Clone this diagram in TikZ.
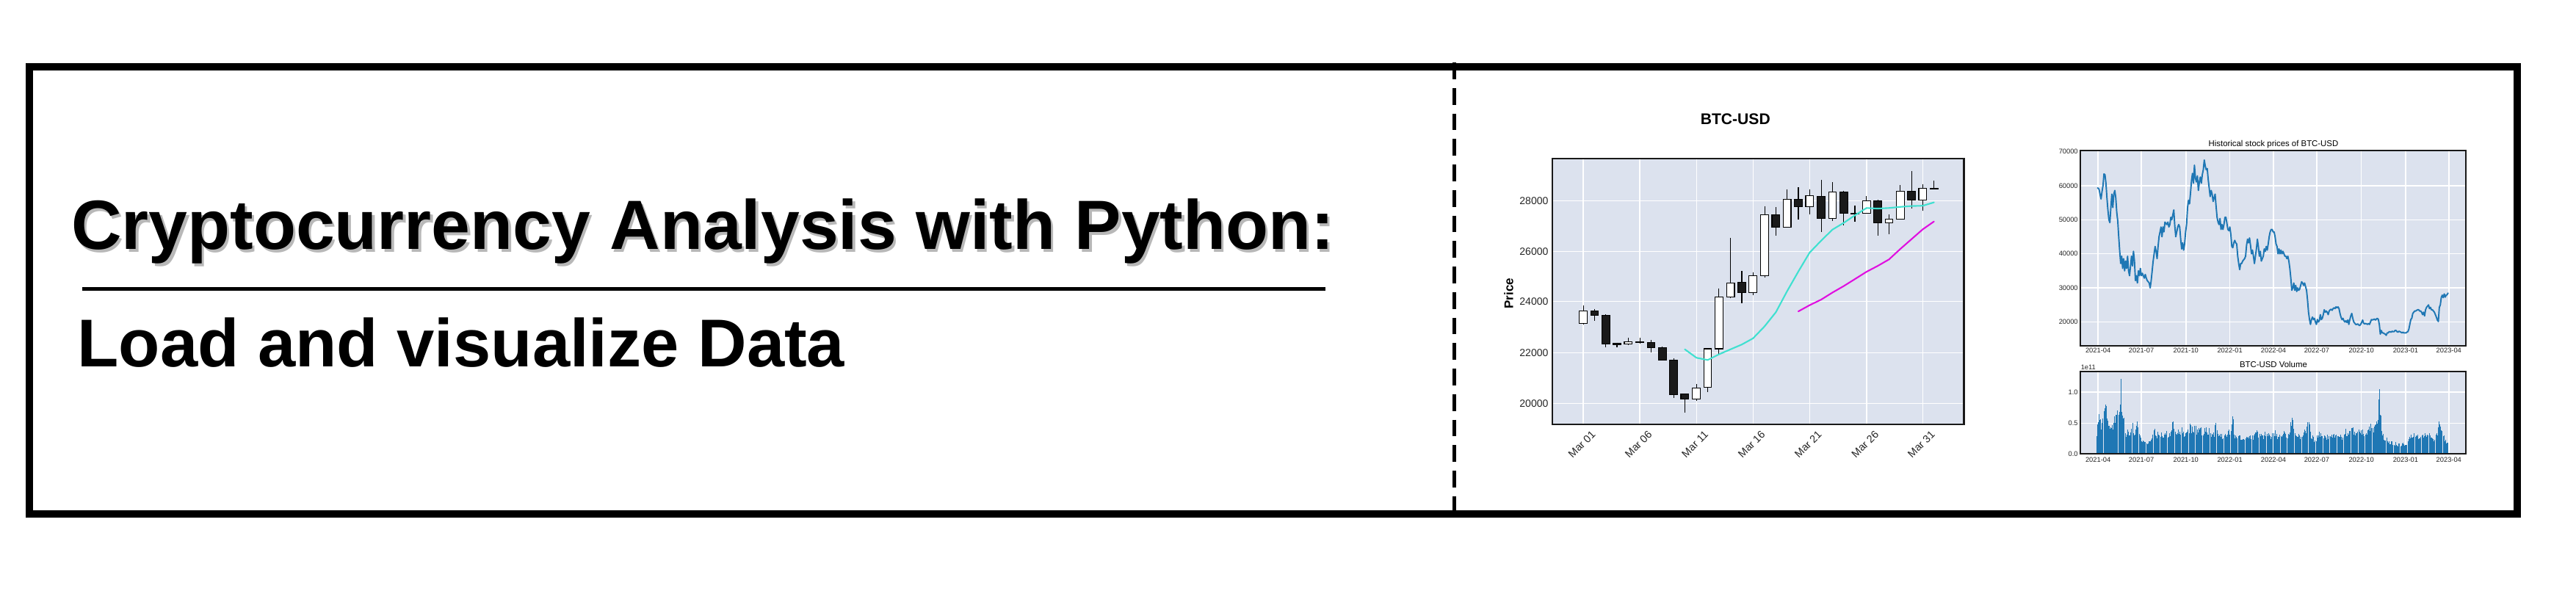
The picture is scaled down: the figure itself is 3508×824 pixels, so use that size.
\documentclass[tikz,border=0pt]{standalone}
\usepackage{fontspec}
\setmainfont{Liberation Sans}
\definecolor{axbg}{HTML}{DCE2EE}
\definecolor{mplblue}{HTML}{1F77B4}
\definecolor{turq}{HTML}{40E0D0}
\definecolor{magen}{HTML}{E010E0}
\colorlet{cw}{white}
\definecolor{cb}{HTML}{1A1A1A}
\newcommand{\myfs}[1]{\fontsize{#1}{#1}\selectfont}
\begin{document}
\begin{tikzpicture}[x=0.01cm,y=-0.01cm,
  outerframe/.style={line width=2.7pt},
  divider/.style={line width=1.42pt, dash pattern=on 6.47pt off 3.41pt},
  rule/.style={line width=1.42pt},
  gridline/.style={white, line width=0.4pt},
  axframe/.style={black!90, line width=0.6pt},
  wick/.style={black, line width=0.32pt},
  body/.style={draw=black, line width=0.32pt},
  maline/.style={line width=0.6pt, line join=round, line cap=round},
  priceline/.style={mplblue, line width=0.55pt, line join=round},
  volbar/.style={mplblue, line width=0.26pt},
  ticklab/.style={inner sep=0, text=black!85},
  txt/.style={inner sep=0}]
\useasboundingbox (0,0) rectangle (3508,824);
\fill[white] (0,0) rectangle (3508,824);

% ---------- title with soft shadow ----------
\node (titleshadow) [txt, anchor=base west, text=black, opacity=0.28] at (100,343)
  {\myfs{27pt}\bfseries Cryptocurrency Analysis with Python:};
\node (title) [txt, anchor=base west] at (96.5,339)
  {\myfs{27pt}\bfseries Cryptocurrency Analysis with Python:};
\draw[rule] (112,393) -- (1805,393);
\node (subtitle) [txt, anchor=base west] at (105,499.5)
  {\myfs{26.2pt}\bfseries Load and visualize Data};

% ---------- candlestick chart ----------
\begin{scope}[shift={(1950,100)}, xscale=0.5102, yscale=0.38265]
  \fill[axbg] (322,302) rectangle (1420,1250);
  \foreach \gx in {404,555,706,857,1008,1160,1310} \draw[gridline] (\gx,302) -- (\gx,1250);
  \foreach \gy in {453,633,812,994,1175} \draw[gridline] (322,\gy) -- (1420,\gy);
  \foreach \x/\bt/\bb/\wt/\wb/\c in {
    404/846/890/826/895/w, 434/846/862/838/880/b, 464/860/962/858/975/b,
    494/960/965/958/976/b, 524/955/964/942/966/w, 555/955/958/942/962/b,
    585/957/975/948/993/b, 615/975/1020/972/1022/b, 645/1020/1143/1015/1155/b,
    675/1141/1160/1141/1208/b, 706/1120/1158/1106/1165/w, 736/980/1118/978/1135/w,
    766/796/980/765/998/w, 797/746/796/586/800/w, 827/744/780/703/818/b,
    857/719/780/707/790/w, 888/504/719/472/727/w, 918/502/547/476/577/b,
    948/448/547/412/550/w, 978/448/475/406/520/b, 1008/436/475/412/502/w,
    1039/438/515/380/565/b, 1069/423/517/387/525/w, 1099/423/498/418/540/b,
    1129/497/500/471/527/b, 1160/453/498/437/500/w, 1190/453/531/450/578/b,
    1220/518/531/502/573/w, 1250/420/519/397/521/w, 1280/420/450/347/480/b,
    1310/408/450/394/490/w, 1340/409/412/382/412/b}{
    \draw[wick] (\x,\wt) -- (\x,\wb);
    \filldraw[body, fill=c\c] (\x-10.5,\bt) rectangle (\x+10.5,\bb);
  }
  \draw[maline, turq] plot coordinates {(675,982) (706,1012) (736,1020) (766,1000) (797,982)
    (827,965) (857,943) (888,900) (918,850) (948,775) (978,705) (1008,638) (1039,595)
    (1069,556) (1099,532) (1129,505) (1160,479) (1190,481) (1220,479) (1250,475)
    (1280,472) (1310,471) (1340,459)};
  \draw[maline, magen] plot coordinates {(978,847) (1008,825) (1039,805) (1069,780)
    (1099,757) (1129,732) (1160,706) (1190,685) (1220,662) (1250,625) (1280,590)
    (1310,555) (1340,527)};
  \draw[axframe] (322,302) rectangle (1420,1250);
  \node (ctitle) [txt] at (810,163) {\myfs{6pt}\bfseries BTC-USD};
  \node (price) [txt, rotate=90] at (205,783) {\myfs{4.84pt}\bfseries Price};
  \foreach \gy/\lab [count=\i] in {453/28000,633/26000,812/24000,994/22000,1175/20000}
    \node (cy\i) [ticklab, anchor=east] at (312,\gy) {\myfs{4pt}\lab};
  \foreach \gx/\lab [count=\i] in {404/Mar 01,555/Mar 06,706/Mar 11,857/Mar 16,1008/Mar 21,1160/Mar 26,1310/Mar 31}
    \node (cx\i) [ticklab, rotate=45] at (\gx-4,1320) {\myfs{4.1pt}\lab};
\end{scope}

% ---------- historical price + volume ----------
\begin{scope}[shift={(2750,150)}, xscale=0.4464, yscale=0.3316]
  \fill[axbg] (186,166) rectangle (1362,967);
  \foreach \gx in {240,372,508,642,775,907,1043,1178,1310} \draw[gridline] (\gx,166) -- (\gx,967);
  \foreach \gy in {310,450,590,730,870} \draw[gridline] (186,\gy) -- (1362,\gy);
  \draw[priceline] plot coordinates {(238,318) (243,325) (246,345) (249,365) (252,335) (255,310) (258,262) (261,265) (264,300) (267,360) (270,410) (273,450) (276,462) (279,400) (282,345) (285,400) (288,345) (291,330) (294,360) (297,420) (300,455) (303,520) (306,580) (309,630) (312,600) (315,650) (318,610) (321,660) (324,620) (327,650) (330,600) (333,660) (336,680) (339,640) (342,600) (345,640) (348,580) (351,620) (354,700) (357,680) (360,710) (363,660) (366,680) (369,650) (372,680) (375,670) (378,680) (381,690) (384,675) (387,690) (390,700) (393,705) (396,710) (399,730) (402,700) (405,660) (408,620) (411,590) (414,560) (417,580) (420,610) (423,560) (426,520) (429,500) (432,480) (435,520) (438,480) (441,500) (444,460) (447,465) (450,470) (453,460) (456,480) (459,470) (462,440) (465,450) (468,430) (471,410) (474,475) (477,520) (480,500) (483,480) (486,470) (489,480) (492,530) (495,570) (498,545) (501,575) (504,550) (507,500) (510,470) (513,400) (516,370) (519,385) (522,340) (525,290) (528,260) (531,300) (534,226) (537,280) (540,295) (543,270) (546,330) (549,295) (552,275) (555,300) (558,265) (561,245) (564,205) (567,230) (570,245) (573,240) (576,285) (579,320) (582,355) (585,330) (588,345) (591,375) (594,360) (597,345) (600,395) (603,440) (606,460) (609,470) (612,445) (615,490) (618,470) (621,490) (624,470) (627,440) (630,440) (633,465) (636,490) (639,495) (642,480) (645,510) (648,560) (651,565) (654,545) (657,535) (660,545) (663,550) (666,600) (669,630) (672,655) (675,630) (678,630) (681,620) (684,615) (687,610) (690,600) (693,555) (696,530) (699,545) (702,525) (705,555) (708,590) (711,575) (714,600) (717,630) (720,600) (723,570) (726,530) (729,560) (732,600) (735,580) (738,620) (741,610) (744,600) (747,570) (750,580) (753,560) (756,575) (759,550) (762,520) (765,500) (768,490) (771,490) (774,500) (777,500) (780,520) (783,550) (786,560) (789,590) (792,570) (795,590) (798,575) (801,590) (804,580) (807,590) (810,600) (813,600) (816,610) (819,600) (822,620) (825,650) (828,690) (831,740) (834,730) (837,710) (840,740) (843,720) (846,745) (849,730) (852,740) (855,735) (858,720) (861,705) (864,710) (867,720) (870,710) (873,725) (876,740) (879,780) (882,830) (885,860) (888,880) (891,860) (894,850) (897,860) (900,855) (903,870) (906,880) (909,860) (912,870) (915,865) (918,840) (921,860) (924,855) (927,840) (930,820) (933,830) (936,825) (939,830) (942,840) (945,825) (948,820) (951,818) (954,822) (957,815) (960,812) (963,815) (966,808) (969,812) (972,808) (975,815) (978,835) (981,850) (984,860) (987,855) (990,865) (993,870) (996,865) (999,872) (1002,862) (1005,880) (1008,860) (1011,845) (1014,835) (1017,855) (1020,870) (1023,875) (1026,880) (1029,880) (1032,878) (1035,882) (1038,885) (1041,880) (1044,872) (1047,862) (1050,875) (1053,878) (1056,876) (1059,878) (1062,880) (1065,876) (1068,880) (1071,870) (1074,860) (1077,862) (1080,860) (1083,858) (1086,862) (1089,858) (1092,855) (1095,860) (1098,880) (1101,920) (1104,905) (1107,915) (1110,915) (1113,918) (1116,920) (1119,925) (1122,915) (1125,915) (1128,910) (1131,910) (1134,912) (1137,908) (1140,910) (1143,910) (1146,905) (1149,905) (1152,910) (1155,912) (1158,908) (1161,910) (1164,912) (1167,915) (1170,912) (1173,915) (1176,915) (1179,915) (1182,912) (1185,910) (1188,900) (1191,880) (1194,860) (1197,855) (1200,835) (1203,830) (1206,825) (1209,825) (1212,822) (1215,820) (1218,820) (1221,825) (1224,825) (1227,830) (1230,840) (1233,830) (1236,845) (1239,820) (1242,810) (1245,805) (1248,800) (1251,815) (1254,810) (1257,820) (1260,820) (1263,825) (1266,830) (1269,840) (1272,850) (1275,862) (1278,868) (1281,810) (1284,800) (1287,770) (1290,760) (1293,770) (1296,755) (1299,768) (1302,760) (1305,758) (1308,750)};
  \draw[axframe] (186,166) rectangle (1362,967);
  \node (htitle) [txt] at (775,140) {\myfs{3.24pt}Historical stock prices of BTC-USD};
  \foreach \gy/\lab [count=\i] in {170/70000,310/60000,450/50000,590/40000,730/30000,870/20000}
    \node (hy\i) [ticklab, anchor=east] at (180,\gy) {\myfs{2.65pt}\lab};
  \foreach \gx/\lab [count=\i] in {240/2021-04,372/2021-07,508/2021-10,642/2022-01,775/2022-04,907/2022-07,1043/2022-10,1178/2023-01,1310/2023-04}
    \node (hx\i) [ticklab] at (\gx,986) {\myfs{2.65pt}\lab};

  % volume
  \fill[axbg] (186,1073) rectangle (1362,1412);
  \foreach \gx in {240,372,508,642,775,907,1043,1178,1310} \draw[gridline] (\gx,1073) -- (\gx,1412);
  \foreach \gy in {1158,1286} \draw[gridline] (186,\gy) -- (1362,\gy);
  \pgfmathsetseed{11}
  \foreach \x/\y [remember=\x as \px (initially 236), remember=\y as \py (initially 1330)] in {
    240/1250, 245/1215, 250/1280, 255/1230, 260/1200, 264/1160, 268/1230, 272/1290, 276/1300, 280/1270,
    285/1300, 290/1235, 295/1250, 300/1165, 305/1215, 309/1085, 312/1185, 316/1215, 320/1270, 325/1320,
    330/1300, 335/1310, 340/1300, 345/1280, 350/1310, 355/1300, 360/1260, 365/1320, 370/1340, 375/1350,
    380/1345, 385/1355, 390/1360, 395/1355, 400/1350, 405/1340, 410/1280, 415/1330, 420/1320, 425/1310,
    430/1315, 435/1320, 440/1325, 445/1320, 450/1315, 455/1320, 460/1310, 465/1300, 470/1245, 475/1305,
    480/1310, 485/1300, 490/1320, 495/1300, 500/1310, 505/1320, 510/1310, 515/1300, 520/1280, 525/1290,
    530/1300, 535/1290, 540/1300, 545/1300, 550/1310, 555/1300, 560/1310, 565/1290, 570/1300, 575/1310,
    580/1300, 585/1320, 590/1310, 595/1320, 600/1255, 605/1320, 610/1330, 615/1320, 620/1325, 625/1320,
    630/1330, 635/1320, 640/1300, 645/1310, 650/1195, 655/1320, 660/1330, 665/1340, 670/1330, 675/1340,
    680/1350, 685/1340, 690/1330, 695/1320, 700/1330, 705/1320, 710/1335, 715/1330, 720/1320, 725/1310,
    730/1330, 735/1320, 740/1325, 745/1330, 750/1320, 755/1330, 760/1320, 765/1325, 770/1330, 775/1320,
    780/1310, 785/1320, 790/1330, 795/1320, 800/1330, 805/1320, 810/1310, 815/1325, 820/1320, 825/1300,
    830/1250, 835/1240, 840/1310, 845/1320, 850/1330, 855/1320, 860/1340, 865/1330, 870/1310, 875/1300,
    880/1235, 885/1290, 890/1320, 895/1330, 900/1345, 905/1340, 910/1330, 915/1320, 920/1320, 925/1330,
    930/1320, 935/1340, 940/1330, 945/1320, 950/1325, 955/1330, 960/1320, 965/1330, 970/1325, 975/1330,
    980/1320, 985/1330, 990/1320, 995/1310, 1000/1320, 1005/1300, 1010/1280, 1015/1290, 1020/1300, 1025/1310,
    1030/1300, 1035/1310, 1040/1305, 1045/1310, 1050/1300, 1055/1320, 1060/1310, 1065/1300, 1070/1280, 1075/1265,
    1080/1290, 1085/1280, 1090/1275, 1095/1250, 1098/1105, 1101/1195, 1105/1310, 1110/1320, 1115/1340, 1120/1345,
    1125/1350, 1130/1355, 1135/1360, 1140/1360, 1145/1365, 1150/1360, 1155/1370, 1160/1365, 1165/1370, 1170/1365,
    1175/1375, 1180/1370, 1185/1360, 1190/1340, 1195/1320, 1200/1330, 1205/1325, 1210/1335, 1215/1330, 1220/1340,
    1225/1330, 1230/1320, 1235/1335, 1240/1320, 1245/1305, 1250/1320, 1255/1330, 1260/1340, 1265/1345, 1270/1330,
    1275/1310, 1280/1270, 1283/1275, 1286/1300, 1290/1300, 1295/1330, 1300/1350, 1305/1355, 1308/1370}{
    \foreach \k in {0,1}{
      \pgfmathsetmacro\bx{\px+\k*(\x-\px)/2}
      \pgfmathsetmacro\by{\py+\k*(\y-\py)/2}
      \pgfmathsetmacro\bh{(1411-\by)*(0.7+0.3*rnd)}
      \draw[volbar] (\bx,1411) -- (\bx,1411-\bh);
    }
  }
  \draw[axframe] (186,1073) rectangle (1362,1412);
  \node (vtitle) [txt] at (775,1045) {\myfs{3.24pt}BTC-USD Volume};
  \node (vexp) [ticklab, anchor=west] at (186,1055) {\myfs{2.65pt}1e11};
  \foreach \gy/\lab [count=\i] in {1158/1.0,1286/0.5,1412/0.0}
    \node (vy\i) [ticklab, anchor=east] at (180,\gy) {\myfs{2.65pt}\lab};
  \foreach \gx/\lab [count=\i] in {240/2021-04,372/2021-07,508/2021-10,642/2022-01,775/2022-04,907/2022-07,1043/2022-10,1178/2023-01,1310/2023-04}
    \node (vx\i) [ticklab] at (\gx,1436) {\myfs{2.65pt}\lab};
\end{scope}

% ---------- frame and divider ----------
\draw[divider] (1980,85.25) -- (1980,700);
\draw[outerframe] (40,91) rectangle (3428,700);
\end{tikzpicture}
\end{document}
